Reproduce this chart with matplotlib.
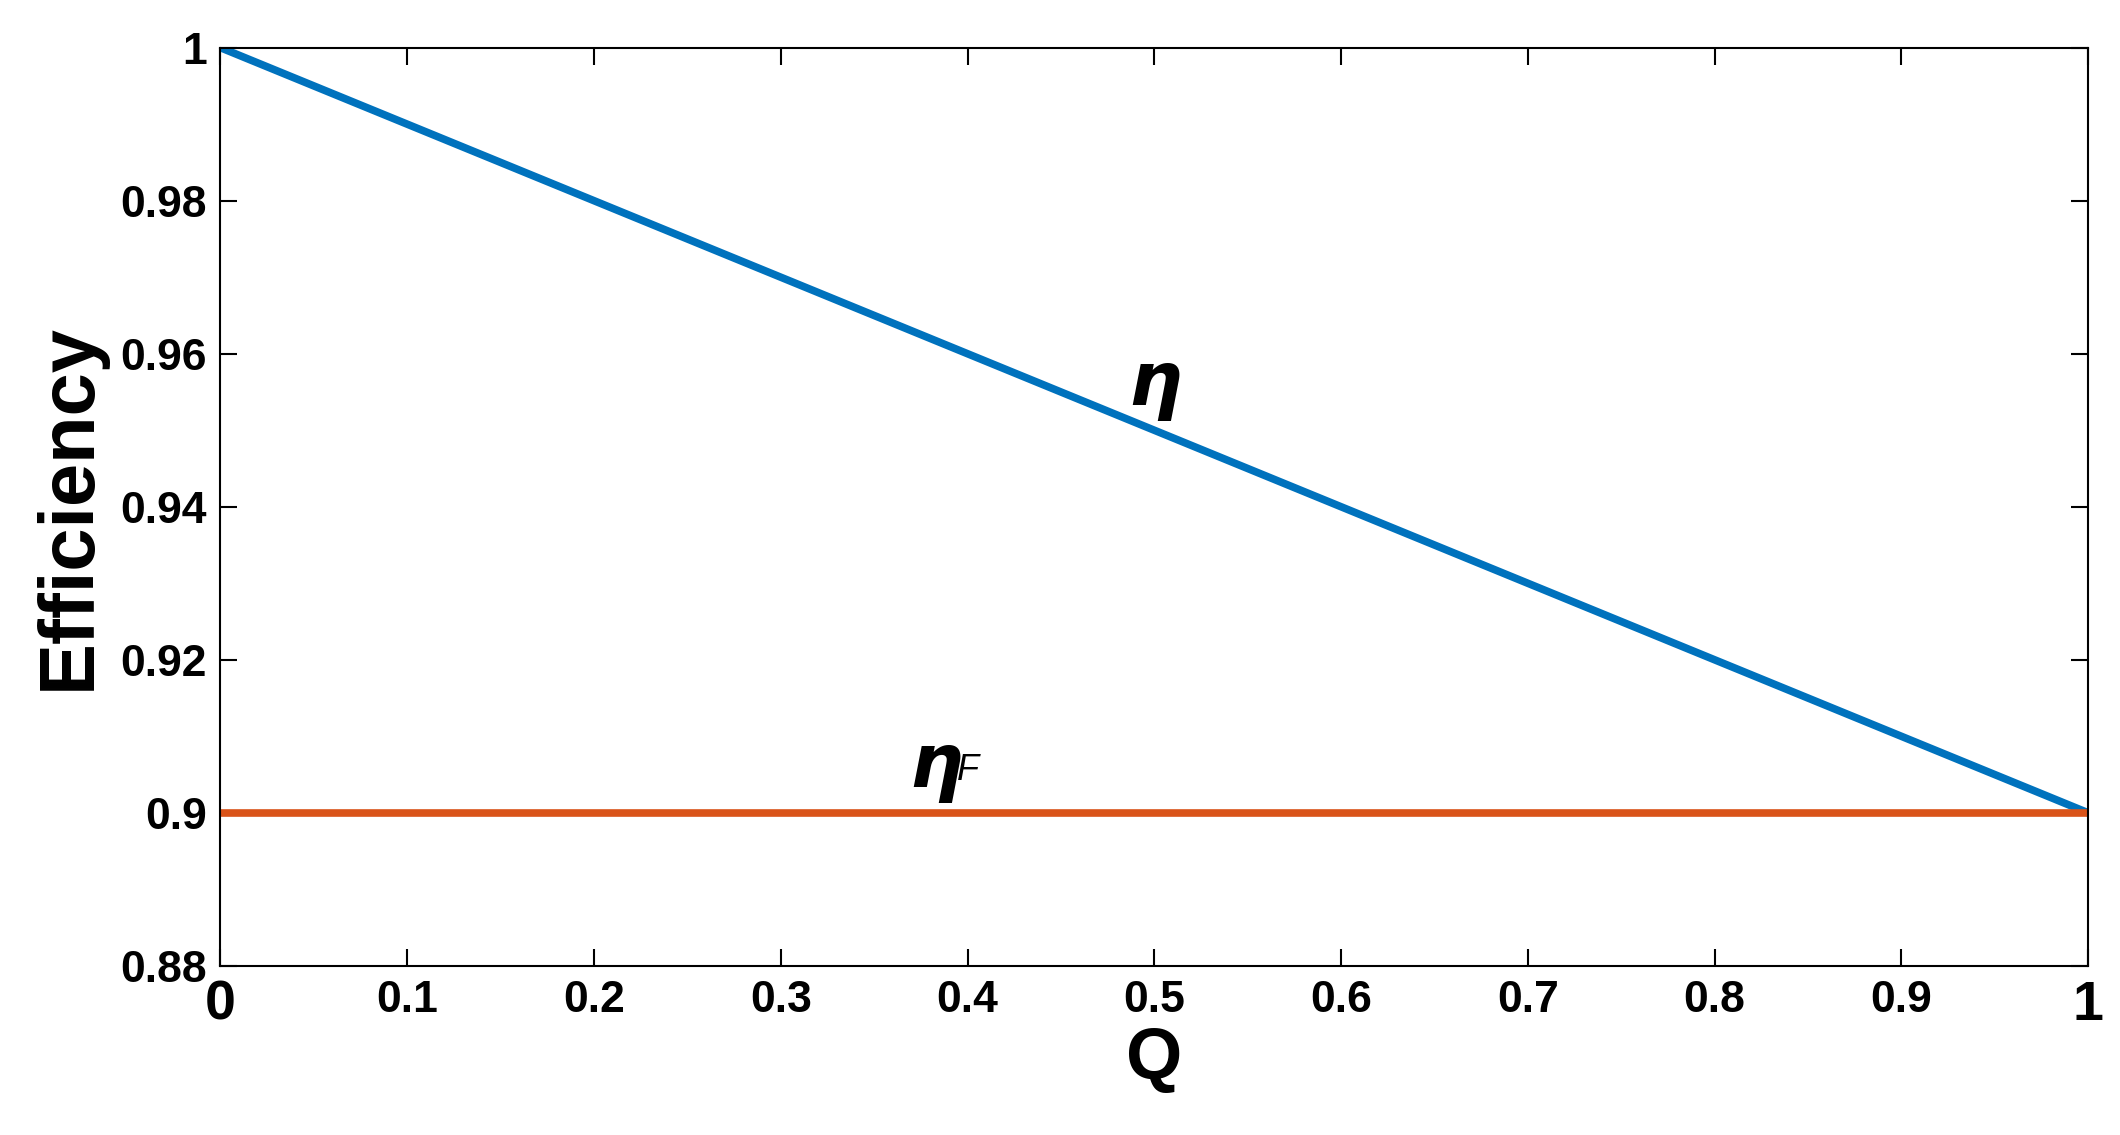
import matplotlib.pyplot as plt

# data
q = [0.0, 1.0]
eta = [1.0, 0.9]
eta_f = [0.9, 0.9]
x_ticks = [0, 0.1, 0.2, 0.3, 0.4, 0.5, 0.6, 0.7, 0.8, 0.9, 1]
x_labels = ['0', '0.1', '0.2', '0.3', '0.4', '0.5', '0.6', '0.7', '0.8', '0.9', '1']
y_ticks = [0.88, 0.9, 0.92, 0.94, 0.96, 0.98, 1]
y_labels = ['0.88', '0.9', '0.92', '0.94', '0.96', '0.98', '1']

plt.rcParams['font.family'] = ['Liberation Sans', 'DejaVu Sans']
plt.rcParams['font.weight'] = 'bold'

fig = plt.figure(figsize=(21.2, 11.35), dpi=100)
ax = fig.add_axes([0.104, 0.149, 0.881, 0.809])

ax.plot(q, eta, color='#0072BD', linewidth=5.5)
ax.plot(q, eta_f, color='#D95319', linewidth=5.5)

ax.set_xlim(0, 1)
ax.set_ylim(0.88, 1)
ax.set_xticks(x_ticks)
ax.set_xticklabels(x_labels, fontsize=32, fontweight='bold')
ax.set_yticks(y_ticks)
ax.set_yticklabels(y_labels, fontsize=32, fontweight='bold')
# MATLAB draws the end labels of the x axis a bit larger
for lab in (ax.get_xticklabels()[0], ax.get_xticklabels()[-1]):
    lab.set_fontsize(40)

ax.tick_params(direction='in', length=12, width=1.5, top=True, right=True, pad=10)
for s in ax.spines.values():
    s.set_linewidth(1.5)

ax.set_xlabel('Q', fontsize=52, fontweight='bold', labelpad=-4)
ax.set_ylabel('Efficiency', fontsize=56, fontweight='bold', labelpad=10)

ax.text(0.5, 0.9555, r'$\eta$', fontsize=54, fontweight='normal', ha='center', va='center')
ax.text(0.383, 0.9055, r'$\eta$', fontsize=54, fontweight='normal', ha='center', va='center')
ax.text(0.4, 0.9055, 'F', fontsize=26, style='italic', fontweight='normal',
        ha='center', va='center')

fig.savefig('out.png', dpi=100)
